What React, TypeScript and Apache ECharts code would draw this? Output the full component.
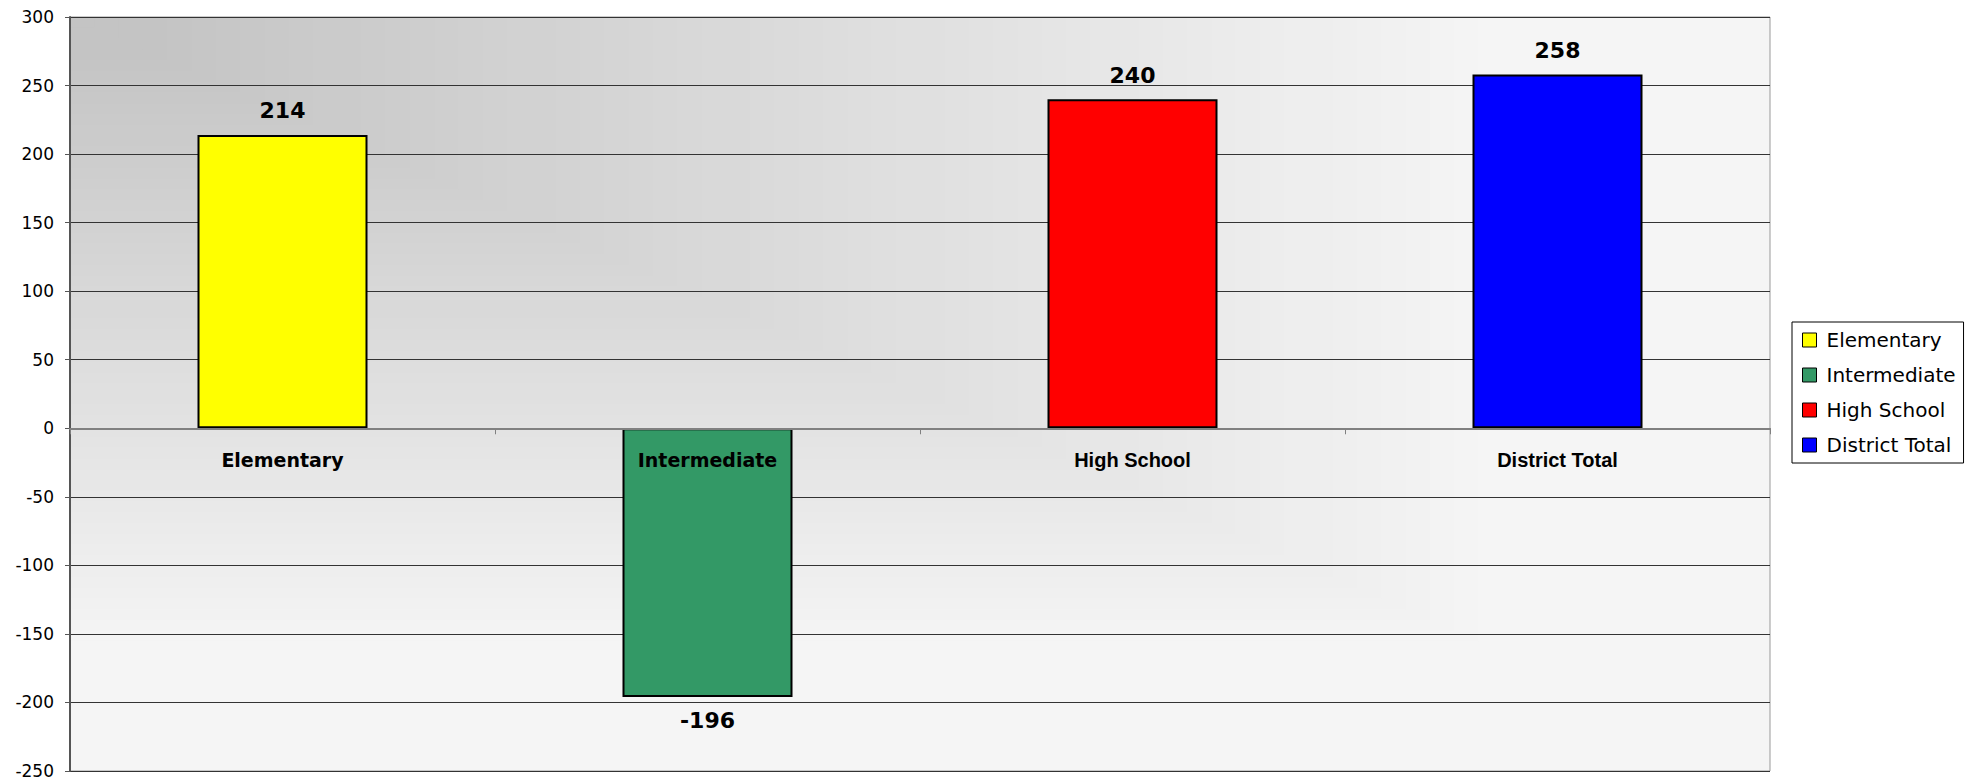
import React, { useEffect, useRef } from "react";
import * as echarts from "echarts";

const categories = ["Elementary", "Intermediate", "High School", "District Total"];
const values = [214, -196, 240, 258];
const barColors = ["#ffff00", "#339966", "#ff0000", "#0000ff"];
const yMin = -250;
const yMax = 300;
const yStep = 50;

const GRID = { left: 70, top: 17, width: 1700, height: 754 };

function backgroundRects() {
  const steps = 70;
  const els: any[] = [];
  for (let k = steps; k >= 1; k--) {
    const t = k / steps;
    const f = Math.max(0, Math.min(1, (t - 0.05) / 0.8));
    const g = Math.round(196 + (245 - 196) * f);
    els.push({
      type: "rect",
      z: -10,
      silent: true,
      shape: { x: GRID.left, y: GRID.top, width: GRID.width * t, height: GRID.height * t },
      style: { fill: `rgb(${g},${g},${g})` },
    });
  }
  return els;
}

export default function App() {
  const ref = useRef<HTMLDivElement>(null);
  useEffect(() => {
    if (!ref.current) return;
    const chart = echarts.init(ref.current, null, { renderer: "svg" });
    const zeroOffset = -GRID.height * (0 - yMin) / (yMax - yMin);
    const series = categories.map((name, i) => ({
      name,
      type: "bar",
      stack: "all",
      barWidth: "40%",
      z: 2,
      data: categories.map((_, j) => (j === i ? values[i] : "-")),
      itemStyle: { color: barColors[i], borderColor: "#000", borderWidth: 2 },
      label: {
        show: true,
        position: values[i] >= 0 ? "top" : "bottom",
        distance: 13,
        fontFamily: "DejaVu Sans",
        fontWeight: "bold",
        fontSize: 22,
        color: "#000",
      },
    }));
    chart.setOption({
      animation: false,
      backgroundColor: "#fff",
      graphic: backgroundRects(),
      grid: {
        left: GRID.left,
        top: GRID.top,
        width: GRID.width,
        height: GRID.height,
        show: true,
        backgroundColor: "transparent",
        borderColor: "#999",
        borderWidth: 1,
        containLabel: false,
        outerBoundsMode: "none",
      },
      legend: {
        orient: "vertical",
        left: 1792,
        top: 322,
        backgroundColor: "#fff",
        borderColor: "#000",
        borderWidth: 1,
        borderRadius: 0,
        padding: [8, 8, 8, 10],
        itemWidth: 14,
        itemHeight: 14,
        itemGap: 15,
        icon: "rect",
        itemStyle: { borderColor: "#000", borderWidth: 1 },
        textStyle: { fontFamily: "DejaVu Sans", fontSize: 20, lineHeight: 20, color: "#000", padding: [0, 0, 0, 5] },
        data: categories,
      },
      xAxis: {
        type: "category",
        data: categories,
        position: "bottom",
        offset: zeroOffset,
        z: 10,
        axisLine: { onZero: false, lineStyle: { color: "#808080", width: 2 } },
        axisTick: { show: true, length: 6, alignWithLabel: false, lineStyle: { color: "#808080", width: 1 } },
        axisLabel: {
          margin: 22,
          color: "#000",
          formatter: (v: string, i: number) => (i >= 2 ? `{n|${v}}` : `{w|${v}}`),
          rich: {
            w: { fontFamily: "DejaVu Sans", fontWeight: "bold", fontSize: 19, color: "#000" },
            n: { fontFamily: "'Liberation Sans Narrow', 'Liberation Sans', sans-serif", fontWeight: "bold", fontSize: 20, color: "#000" },
          },
        },
        splitLine: { show: false },
      },
      yAxis: {
        type: "value",
        min: yMin,
        max: yMax,
        interval: yStep,
        axisLine: { show: true, lineStyle: { color: "#555", width: 2 } },
        axisTick: { show: true, length: 5, lineStyle: { color: "#555" } },
        axisLabel: { margin: 16, fontFamily: "DejaVu Sans", fontSize: 17, color: "#000" },
        splitLine: { show: true, lineStyle: { color: "#333", width: 1 } },
      },
      series,
    });
    return () => chart.dispose();
  }, []);
  return <div ref={ref} style={{ position: "fixed", left: 0, top: 0, width: 1981, height: 780 }} />;
}
